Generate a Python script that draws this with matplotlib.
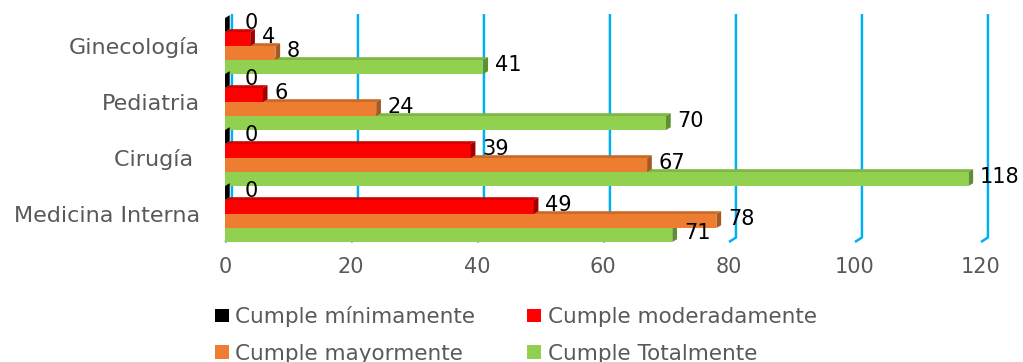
import matplotlib
matplotlib.use("Agg")
import matplotlib.pyplot as plt
from matplotlib.patches import Polygon, Patch
import numpy as np

categories = ["Medicina Interna", "Cirugía ", "Pediatria", "Ginecología"]
series_names = ["Cumple mínimamente", "Cumple moderadamente", "Cumple mayormente", "Cumple Totalmente"]
minimamente = [0, 0, 0, 0]
moderadamente = [49, 39, 6, 4]
mayormente = [78, 67, 24, 8]
totalmente = [71, 118, 70, 41]
x_ticks = [0, 20, 40, 60, 80, 100, 120]

front_colors = ["#000000", "#FF0000", "#ED7D31", "#92D050"]
top_colors = ["#1a1a1a", "#D40000", "#C96A28", "#7DB844"]
side_colors = ["#000000", "#A00000", "#A9561F", "#5F8F30"]

fig = plt.figure(figsize=(10.23, 3.62), dpi=100)
ax = fig.add_axes([225 / 1023, 1 - 242 / 362, 756 / 1023, 224 / 362])
ax.set_xlim(0, 120)
ax.set_ylim(-0.5, 3.5)

gray = "#595959"
grid_color = "#00B0F0"
dx, dy = 0.75, 0.05          # 3D depth of bars (data units)
gdx, gdy = 1.1, 0.08         # 3D depth of back wall gridlines

# back-wall gridlines with floor hook
for v in x_ticks:
    ax.plot([v + gdx, v + gdx, v], [3.57, -0.5 + gdy, -0.5],
            color=grid_color, lw=1.8, clip_on=False, zorder=1,
            solid_capstyle="butt")

series = [minimamente, moderadamente, mayormente, totalmente]
offsets = [0.375, 0.125, -0.125, -0.375]
h = 0.25
y = np.arange(len(categories))

# draw from bottom bar upwards so upper bars cover lower top faces
for si in [3, 2, 1, 0]:
    vals = series[si]
    for ci, v in enumerate(vals):
        yc = y[ci] + offsets[si]
        y0, y1 = yc - h / 2, yc + h / 2
        top = Polygon([(0, y1), (v, y1), (v + dx, y1 + dy), (dx, y1 + dy)],
                      closed=True, facecolor=top_colors[si], edgecolor="none",
                      zorder=3, clip_on=False)
        ax.add_patch(top)
        front = Polygon([(0, y0), (v, y0), (v, y1), (0, y1)], closed=True,
                        facecolor=front_colors[si], edgecolor="none", zorder=3,
                        clip_on=False)
        ax.add_patch(front)
        side = Polygon([(v, y0), (v, y1), (v + dx, y1 + dy), (v + dx, y0 + dy)],
                       closed=True, facecolor=side_colors[si], edgecolor="none",
                       zorder=3, clip_on=False)
        ax.add_patch(side)
        pad = 2.3 if v == 0 else 1.1
        ax.text(v + dx + pad, yc + 0.03, f"{v}", ha="left", va="center",
                fontsize=15, color="black", zorder=5, clip_on=False)

ax.set_yticks(y)
ax.set_yticklabels(categories, fontsize=16, color=gray)
ax.set_xticks(x_ticks)
ax.set_xticklabels([str(t) for t in x_ticks], fontsize=15, color=gray)
ax.tick_params(axis="y", length=0, pad=18)
ax.tick_params(axis="x", length=0, pad=11)
for s in ax.spines.values():
    s.set_visible(False)
ax.patch.set_alpha(0)

handles = [Patch(facecolor=front_colors[i], edgecolor="none") for i in [0, 2, 1, 3]]
labels = [series_names[i] for i in [0, 2, 1, 3]]
leg = fig.legend(handles, labels, ncol=2, loc="upper left",
                 bbox_to_anchor=(215 / 1023, 1 - 306 / 362),
                 frameon=False, fontsize=15.5, handlelength=0.65, handleheight=0.6,
                 handletextpad=0.3, columnspacing=2.4, labelspacing=0.78,
                 borderpad=0, borderaxespad=0)
for t in leg.get_texts():
    t.set_color(gray)

fig.savefig("out.png", dpi=100)
